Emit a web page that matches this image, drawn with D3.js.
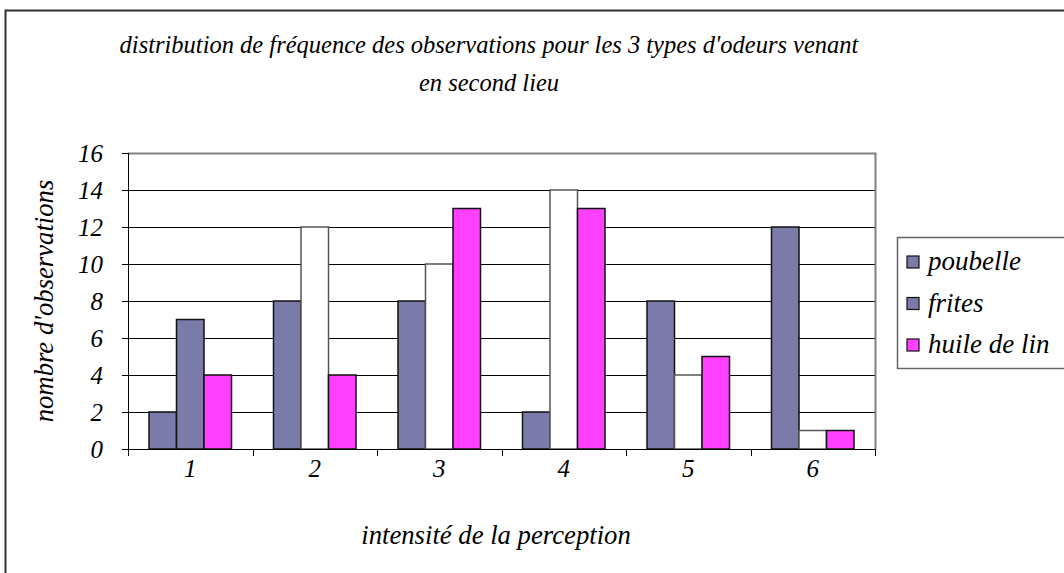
<!DOCTYPE html>
<meta charset="utf-8">
<style>
body { margin: 0; background: #fff; }
.grid line { stroke: #000; stroke-width: 1px; }
.axis path, .axis line { stroke: #000; stroke-width: 1px; }
</style>
<svg width="1064" height="573"></svg>
<script src="https://d3js.org/d3.v7.min.js"></script>
<script>

// data
var categories = ["1", "2", "3", "4", "5", "6"];
var seriesNames = ["poubelle", "frites", "huile de lin"];
var poubelle = [2, 8, 8, 2, 8, 12];
var frites = [7, 12, 10, 14, 4, 1];
var huile = [4, 4, 13, 13, 5, 1];
var yTicks = [0, 2, 4, 6, 8, 10, 12, 14, 16];

var purple = "#7b7ba9",
    magenta = "#ff40ff";
var colors = [purple, purple, magenta];

var svg = d3.select("svg"),
    margin = {top: 153, left: 128},
    width = 747,
    height = 296;

function serif(size) {
  return function(sel) {
    sel.style("font-family", "'Liberation Serif'")
       .style("font-style", "italic")
       .style("font-size", size + "px")
       .attr("fill", "#000");
  };
}

// chart border
svg.append("path")
    .attr("d", "M5.5,600 V10.5 H1064")
    .attr("fill", "none")
    .attr("stroke", "#333")
    .attr("stroke-width", 2);

// title
var title = svg.append("text")
    .attr("text-anchor", "middle")
    .call(serif(24.5));
title.append("tspan").attr("x", 489).attr("y", 53)
    .text("distribution de fréquence des observations pour les 3 types d'odeurs venant");
title.append("tspan").attr("x", 489).attr("y", 91)
    .text("en second lieu");

var g = svg.append("g")
    .attr("transform", "translate(" + margin.left + "," + margin.top + ")");

var x0 = d3.scaleBand().domain(categories).range([0, width]);
var x1 = d3.scaleBand().domain(seriesNames).range([21, x0.bandwidth() - 21]);
var y = d3.scaleLinear().domain([0, 16]).range([height, 0]);

// gridlines
g.append("g")
    .attr("class", "grid")
  .selectAll("line")
  .data(yTicks.filter(function(d) { return d > 0 && d < 16; }))
  .enter().append("line")
    .attr("x1", 0)
    .attr("x2", width)
    .attr("y1", function(d) { return Math.round(y(d)) + 0.5; })
    .attr("y2", function(d) { return Math.round(y(d)) + 0.5; });

// plot area border (top/right)
g.append("path")
    .attr("d", "M0," + (y(16) + 0.5) + " H" + (width + 0.5) + " V" + height)
    .attr("fill", "none")
    .attr("stroke", "#808080")
    .attr("stroke-width", 2);

var values = [poubelle, frites, huile];
var rows = [];
categories.forEach(function(c, i) {
  seriesNames.forEach(function(s, j) {
    rows.push({cat: c, series: s, si: j, ci: i, value: values[j][i]});
  });
});

// only the first "frites" bar is filled, the others are left white
function barFill(d) {
  if (d.si === 1 && d.ci > 0) return "#fff";
  return colors[d.si];
}
function barStroke(d) {
  if (d.si === 1 && d.ci > 0) return "#555";
  return "#111";
}

g.selectAll(".bar")
  .data(rows)
  .enter().append("rect")
    .attr("class", "bar")
    .attr("x", function(d) { return x0(d.cat) + x1(d.series); })
    .attr("y", function(d) { return y(d.value); })
    .attr("width", x1.bandwidth())
    .attr("height", function(d) { return height - y(d.value); })
    .attr("fill", barFill)
    .attr("stroke", barStroke)
    .attr("stroke-width", 1.5);

// y axis
var yAxis = g.append("g")
    .attr("class", "axis")
    .call(d3.axisLeft(y).tickValues(yTicks).tickSize(6).tickPadding(19));
yAxis.select(".domain").attr("d", "M0.5,0 V" + height);
yAxis.selectAll("text").call(serif(25));

// x axis
var xAxis = g.append("g")
    .attr("class", "axis")
    .attr("transform", "translate(0," + height + ")");
xAxis.append("line")
    .attr("x1", 0).attr("x2", width)
    .attr("y1", 0.5).attr("y2", 0.5);
xAxis.selectAll(".tick")
  .data(d3.range(categories.length + 1))
  .enter().append("line")
    .attr("x1", function(i) { return Math.round(i * x0.step()) + 0.5; })
    .attr("x2", function(i) { return Math.round(i * x0.step()) + 0.5; })
    .attr("y1", 0)
    .attr("y2", 7);
xAxis.selectAll(".lbl")
  .data(categories)
  .enter().append("text")
    .attr("x", function(d) { return x0(d) + x0.bandwidth() / 2; })
    .attr("y", 28)
    .attr("text-anchor", "middle")
    .call(serif(25))
    .text(function(d) { return d; });

// axis titles
svg.append("text")
    .attr("x", 496)
    .attr("y", 544)
    .attr("text-anchor", "middle")
    .call(serif(26.7))
    .text("intensité de la perception");

svg.append("text")
    .attr("transform", "translate(53,301) rotate(-90)")
    .attr("text-anchor", "middle")
    .call(serif(26.7))
    .text("nombre d'observations");

// legend
var legend = svg.append("g").attr("transform", "translate(897,237)");
legend.append("rect")
    .attr("x", 0.5).attr("y", 0.5)
    .attr("width", 200).attr("height", 131)
    .attr("fill", "#fff")
    .attr("stroke", "#666")
    .attr("stroke-width", 1.5);
var item = legend.selectAll(".item")
  .data(seriesNames)
  .enter().append("g")
    .attr("transform", function(d, i) { return "translate(10," + (25 + i * 41.5) + ")"; });
item.append("rect")
    .attr("x", 0).attr("y", -6)
    .attr("width", 12).attr("height", 12)
    .attr("fill", function(d, i) { return colors[i]; })
    .attr("stroke", "#111")
    .attr("stroke-width", 1.2);
item.append("text")
    .attr("x", 21)
    .attr("y", 8)
    .call(serif(27))
    .text(function(d) { return d; });

</script>
